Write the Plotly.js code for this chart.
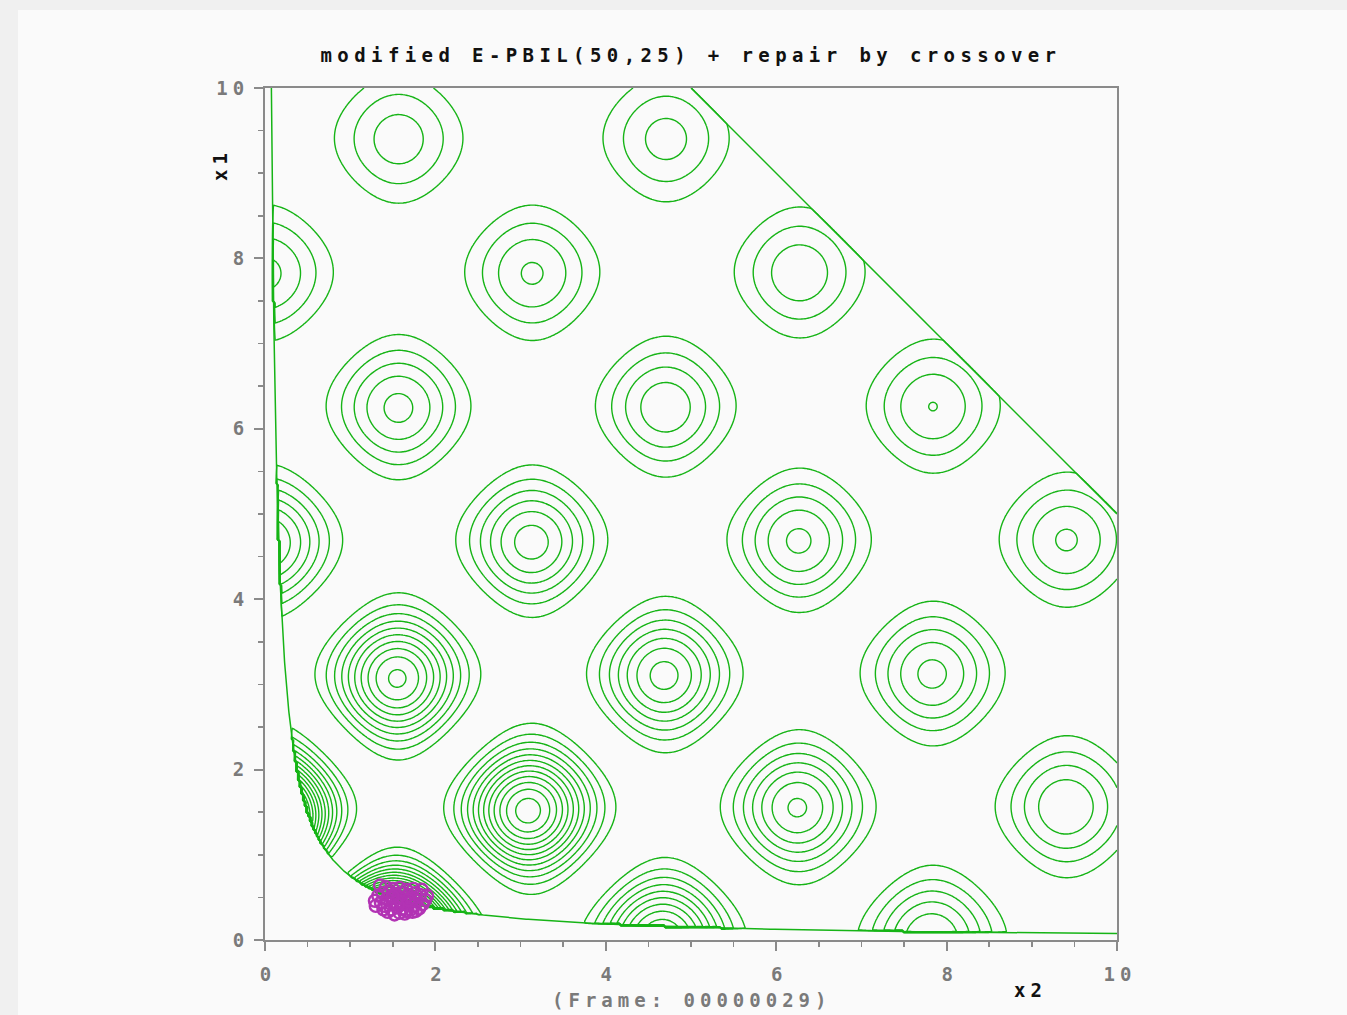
<!DOCTYPE html>
<html>
<head>
<meta charset="utf-8">
<script src="https://cdn.plot.ly/plotly-3.0.1.min.js"></script>
<style>
  html, body { margin: 0; padding: 0; background: #f0f0f0; }
  #chart { position: absolute; left: 18px; top: 10px; width: 1329px; height: 1005px; }
  .gtitle { letter-spacing: 5.4px; }
  .xtick text, .ytick text { letter-spacing: 5px; }
  .annotation-text { letter-spacing: 5px; }
</style>
</head>
<body>
<div id="chart"></div>
<script>
// ---- chart values ----
const chartTitle = 'modified E-PBIL(50,25) + repair by crossover';
const frameLabel = '(Frame: 00000029)';
const xAxisLabel = 'x2';
const yAxisLabel = 'x1';
const axisRange = [0, 10];
const xTickVals = [0, 2, 4, 6, 8, 10];
const xTickText = ['0', '2', '4', '6', '8', '10'];
const yTickVals = [0, 2, 4, 6, 8, 10];
const yTickText = ['0', '2', '4', '6', '8', '10'];
// constraints of the bump problem (feasible region boundaries)
const productLimit = 0.75;   // x1 * x2 >= 0.75
const sumLimit = 15;         // x1 + x2 <= 15
// contour levels
const levelStart = 0.021;
const levelStep = 0.021;
const levelEnd = 0.42;
const gridStep = 0.02;
// population (frame 29)
const popX2 = [1.35,1.42,1.50,1.58,1.66,1.74,1.84,1.90,
               1.29,1.33,1.38,1.45,1.52,1.60,1.68,1.76,1.82,1.88,
               1.30,1.36,1.43,1.49,1.56,1.63,1.70,1.78,1.85,
               1.40,1.47,1.54,1.61,1.69,1.75,1.81,
               1.48,1.55,1.62,1.71,1.77,
               1.44,1.58,1.66,
               1.52,1.64,1.73,
               1.39,1.60,1.68,1.56,1.50];
const popX1 = [0.64,0.62,0.60,0.61,0.59,0.60,0.59,0.52,
               0.46,0.52,0.55,0.56,0.54,0.55,0.53,0.55,0.53,0.47,
               0.40,0.44,0.48,0.49,0.50,0.48,0.49,0.46,0.42,
               0.40,0.43,0.44,0.42,0.43,0.40,0.37,
               0.36,0.38,0.37,0.36,0.34,
               0.33,0.32,0.34,
               0.30,0.31,0.33,
               0.36,0.45,0.47,0.41,0.51];

// ---- objective surface (bump function), masked to the feasible region ----
// NOTE: this contour surface is computed from a formula (the bump objective),
// not read point-by-point from the picture.
function bump(x1, x2) {
  const c1 = Math.cos(x1) ** 2, c2 = Math.cos(x2) ** 2;
  return (c1 - c2) ** 2 / Math.sqrt(2 * x1 * x1 + x2 * x2);
}
const gridX2 = [], gridX1 = [];
const nGrid = Math.round((axisRange[1] - axisRange[0]) / gridStep) + 1;
for (let i = 0; i < nGrid; i++) {
  gridX2.push(axisRange[0] + i * gridStep);
  gridX1.push(axisRange[0] + i * gridStep);
}
const zGrid = gridX1.map(v => gridX2.map(h => {
  if (h * v < productLimit || h + v > sumLimit) return 0;
  return bump(v, h);
}));

// constraint boundary curves
const hypX2 = [], hypX1 = [];
const hStart = productLimit / axisRange[1];
const nHyp = 600;
for (let i = 0; i <= nHyp; i++) {
  const h = hStart * Math.pow(axisRange[1] / hStart, i / nHyp);
  hypX2.push(h); hypX1.push(productLimit / h);
}
const lineX2 = [sumLimit - axisRange[1], axisRange[1]];
const lineX1 = lineX2.map(h => sumLimit - h);

const green = '#16b416';
const axisGray = '#8a8a8a';
const labelGray = '#7a7a7a';
const monoFont = 'DejaVu Sans Mono';

const traces = [
  {
    type: 'contour', x: gridX2, y: gridX1, z: zGrid,
    autocontour: false,
    contours: { start: levelStart, end: levelEnd, size: levelStep, coloring: 'none', showlabels: false },
    line: { color: green, width: 1.4, smoothing: 0.6 },
    showscale: false, hoverinfo: 'skip'
  },
  {
    type: 'scatter', mode: 'lines', x: hypX2, y: hypX1,
    line: { color: green, width: 1.5 }, hoverinfo: 'skip', showlegend: false
  },
  {
    type: 'scatter', mode: 'lines', x: lineX2, y: lineX1,
    line: { color: green, width: 1.5 }, hoverinfo: 'skip', showlegend: false
  },
  {
    type: 'scatter', mode: 'markers', x: popX2, y: popX1,
    marker: { symbol: 'circle-open', size: 12, color: '#b233b4', line: { width: 2.4, color: '#b233b4' } },
    showlegend: false
  }
];

const axisCommon = {
  range: axisRange, showline: true, linecolor: axisGray, linewidth: 2, mirror: true,
  ticks: 'outside', ticklen: 9, tickwidth: 2, tickcolor: axisGray,
  tickmode: 'array',
  tickfont: { family: monoFont, size: 19, color: labelGray, weight: 'bold' },
  showgrid: false, zeroline: false, fixedrange: true,
  minor: { tickmode: 'linear', tick0: 0, dtick: 0.5, ticks: 'outside', ticklen: 5, tickwidth: 1.5, tickcolor: axisGray, showgrid: false }
};

const layout = {
  width: 1329, height: 1005,
  paper_bgcolor: '#fafafa', plot_bgcolor: '#fafafa',
  margin: { l: 247, r: 230, t: 78, b: 75 },
  showlegend: false,
  title: {
    text: chartTitle,
    font: { family: monoFont, size: 19, color: '#111111', weight: 'bold' },
    xref: 'container', x: 673 / 1329, xanchor: 'center',
    yref: 'container', y: 1 - 45 / 1005, yanchor: 'middle'
  },
  xaxis: Object.assign({}, axisCommon, { tickvals: xTickVals, ticktext: xTickText, ticklabelstandoff: 7, ticklabelshift: 3 }),
  yaxis: Object.assign({}, axisCommon, { tickvals: yTickVals, ticktext: yTickText, ticklabelstandoff: 1 }),
  annotations: [
    { xref: 'paper', yref: 'paper', x: -45 / 852, y: 775 / 852, text: yAxisLabel, textangle: -90,
      showarrow: false, xanchor: 'center', yanchor: 'middle',
      font: { family: monoFont, size: 19, color: '#111111', weight: 'bold' } },
    { xref: 'paper', yref: 'paper', x: 765 / 852, y: -50 / 852, text: xAxisLabel,
      showarrow: false, xanchor: 'center', yanchor: 'middle',
      font: { family: monoFont, size: 19, color: '#111111', weight: 'bold' } },
    { xref: 'paper', yref: 'paper', x: 426 / 852, y: -60 / 852, text: frameLabel,
      showarrow: false, xanchor: 'center', yanchor: 'middle',
      font: { family: monoFont, size: 19, color: labelGray, weight: 'bold' } }
  ]
};

Plotly.newPlot('chart', traces, layout, { staticPlot: true, displayModeBar: false });
</script>
</body>
</html>
